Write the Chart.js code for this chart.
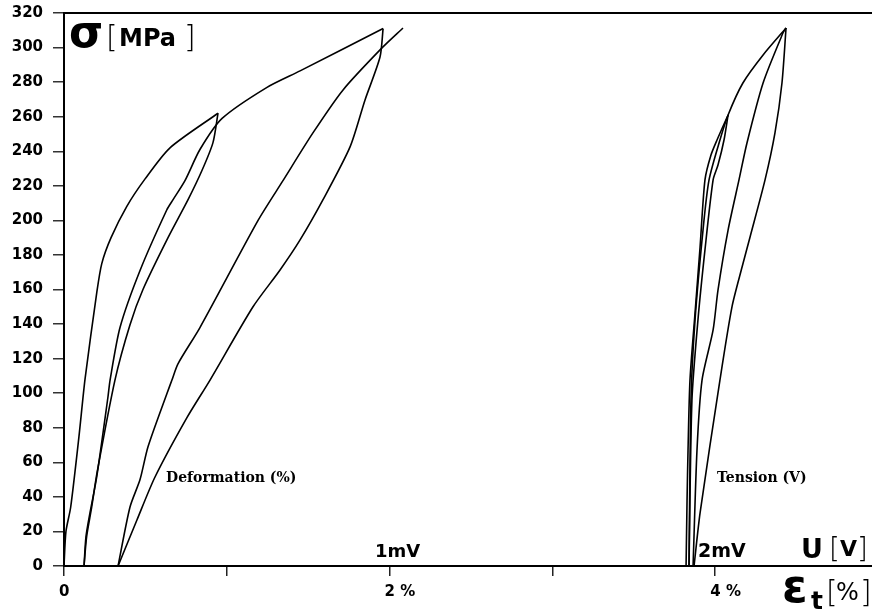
<!DOCTYPE html>
<html>
<head>
<meta charset="utf-8">
<script src="https://cdn.jsdelivr.net/npm/chart.js@4/dist/chart.umd.min.js"></script>
<style>
  html, body { margin: 0; padding: 0; background: #fff; }
  #wrap { width: 872px; height: 611px; }
</style>
</head>
<body>
<div id="wrap"><canvas id="hysteresis" width="872" height="611"></canvas></div>
<script>
// ===========================================
// DADOS
// ===========================================

// eixo x: deformação em %, eixo y: tensão em MPa
const xTickLabels = ['0', '', '2 %', '', '4 %'];
const xMax = 4.963;
const yMax = 320;
const yStep = 20;

// grupo da esquerda: Deformation (%)
const defLoad1X = [0, 0.012, 0.041, 0.092, 0.129, 0.201, 0.232, 0.289, 0.385, 0.498, 0.651, 0.946];
const defLoad1Y = [0, 20, 34, 75, 108, 158, 175, 190, 208, 224, 242, 262];

const defUnload1X = [0.946, 0.915, 0.848, 0.762, 0.639, 0.485, 0.405, 0.313, 0.203, 0.170, 0.139, 0.123];
const defUnload1Y = [262, 245, 229, 212, 190, 160, 139.5, 107.6, 54, 34, 17, 0];

const defLoad2X = [0.123, 0.135, 0.160, 0.201, 0.270, 0.283, 0.344, 0.467, 0.631, 0.670, 0.743, 0.835, 0.971, 1.247, 1.450, 1.960];
const defLoad2Y = [0, 17, 31, 51.5, 97.8, 107.6, 138, 171, 206, 212, 223, 241, 259, 277, 286.5, 311];

const defUnload2X = [1.960, 1.941, 1.849, 1.757, 1.591, 1.450, 1.327, 1.161, 0.897, 0.756, 0.559, 0.448, 0.332];
const defUnload2Y = [311, 294.5, 269.7, 242.5, 212, 188.7, 171.3, 150, 107.6, 86, 51.5, 26.6, 0];

const defLoad3X = [0.332, 0.405, 0.467, 0.516, 0.633, 0.663, 0.700, 0.835, 1.192, 1.345, 1.529, 1.714, 1.953, 2.082];
const defLoad3Y = [0, 34, 50, 69, 100, 107.6, 117, 138, 200, 223, 250.6, 275.5, 299.8, 311.3];

// grupo da direita: Tension (V)
const tenLoad1X = [3.821, 3.827, 3.833, 3.845, 3.876, 3.907, 3.937, 3.974, 4.011, 4.079];
const tenLoad1Y = [0, 38, 67, 107.6, 146.4, 184.6, 223.4, 237.8, 246.5, 261];

const tenUnload1X = [4.079, 4.054, 4.017, 3.987, 3.937, 3.894, 3.857, 3.839];
const tenUnload1Y = [261, 246.5, 232, 223.4, 182.9, 142.4, 96, 0];

const tenLoad2X = [3.839, 3.851, 3.876, 3.925, 3.962, 4.029, 4.079, 4.170, 4.294, 4.435];
const tenLoad2Y = [0, 96, 142.4, 194.4, 223.4, 246.5, 261, 279.5, 295.7, 311.3];

const tenUnload2X = [4.435, 4.410, 4.367, 4.306, 4.214, 4.165, 4.103, 4.029, 3.907, 3.870];
const tenUnload2Y = [311.3, 279.5, 250.6, 223.4, 190.4, 173, 150, 107.6, 30.7, 0];

const tenLoad3X = [3.864, 3.888, 3.919, 3.987, 4.017, 4.079, 4.146, 4.195, 4.294, 4.416, 4.435];
const tenLoad3Y = [0, 67, 107.6, 136.6, 159.7, 194.4, 223.4, 244.8, 279.5, 308.4, 311.3];

const curves = [
    [defLoad1X, defLoad1Y], [defUnload1X, defUnload1Y], [defLoad2X, defLoad2Y],
    [defUnload2X, defUnload2Y], [defLoad3X, defLoad3Y],
    [tenLoad1X, tenLoad1Y], [tenUnload1X, tenUnload1Y], [tenLoad2X, tenLoad2Y],
    [tenUnload2X, tenUnload2Y], [tenLoad3X, tenLoad3Y]
];

// ===========================================
// TEXTOS E MOLDURA (plugin)
// ===========================================

const SANS = "'DejaVu Sans', sans-serif";
const SERIF = "'DejaVu Serif', serif";

function put(ctx, text, font, x, y) {
    ctx.font = font;
    ctx.fillText(text, x, y);
}

const labelsPlugin = {
    id: 'labels',
    afterDraw(chart) {
        const { ctx, chartArea: a } = chart;
        ctx.save();
        // linha superior
        ctx.strokeStyle = '#000';
        ctx.lineWidth = 2;
        ctx.beginPath();
        ctx.moveTo(a.left - 1, a.top);
        ctx.lineTo(a.right, a.top);
        ctx.stroke();

        ctx.fillStyle = '#000';
        ctx.textBaseline = 'alphabetic';
        ctx.textAlign = 'left';

        // σ [MPa]
        put(ctx, 'σ', `bold 44px ${SANS}`, 69, 47);
        put(ctx, '[', `300 30px ${SANS}`, 106, 47);
        put(ctx, 'MPa', `bold 24px ${SANS}`, 119, 46);
        put(ctx, ']', `300 30px ${SANS}`, 184, 47);

        // U [V]
        put(ctx, 'U', `bold 27px ${SANS}`, 801, 558);
        put(ctx, '[', `300 28px ${SANS}`, 829, 558);
        put(ctx, 'V', `bold 22px ${SANS}`, 840, 556);
        put(ctx, ']', `300 28px ${SANS}`, 857, 558);

        // εt [%]
        put(ctx, 'ε', `bold 46px ${SANS}`, 782, 602);
        put(ctx, 't', `bold 25px ${SANS}`, 811, 609);
        put(ctx, '[', `300 30px ${SANS}`, 826, 602);
        put(ctx, '%', `24px ${SANS}`, 836, 600);
        put(ctx, ']', `300 30px ${SANS}`, 860, 602);

        // 1mV / 2mV
        put(ctx, '1mV', `bold 18px ${SANS}`, 375, 557);
        put(ctx, '2mV', `bold 19px ${SANS}`, 698, 557);

        // legendas das curvas
        put(ctx, 'Deformation (%)', `bold 14px ${SERIF}`, 166, 482);
        put(ctx, 'Tension (V)', `bold 14px ${SERIF}`, 717, 482);
        ctx.restore();
    }
};

// ===========================================
// GRÁFICO
// ===========================================

function renderChart() {
    const ctx = document.getElementById('hysteresis');
    const datasets = curves.map(([xs, ys]) => ({
        data: xs.map((x, i) => ({ x, y: ys[i] })),
        borderColor: '#000',
        borderWidth: 1.6,
        pointRadius: 0,
        tension: 0.25,
        fill: false
    }));

    new Chart(ctx, {
        type: 'line',
        data: { datasets },
        options: {
            responsive: false,
            animation: false,
            layout: { padding: { top: 13, left: 0, right: 0, bottom: 0 } },
            plugins: {
                legend: { display: false },
                tooltip: { enabled: false }
            },
            scales: {
                x: {
                    type: 'linear',
                    min: 0,
                    max: xMax,
                    border: { color: '#000', width: 2 },
                    grid: { drawOnChartArea: false, drawTicks: true, tickLength: 10, color: '#222', lineWidth: 1.5 },
                    ticks: {
                        stepSize: 1,
                        align: 'start',
                        labelOffset: -5,
                        padding: 7,
                        maxRotation: 0,
                        autoSkip: false,
                        color: '#000',
                        font: { family: 'DejaVu Sans', weight: 'bold', size: 15 },
                        callback: v => xTickLabels[v] ?? ''
                    },
                    afterBuildTicks: s => { s.ticks = s.ticks.filter(t => Number.isInteger(t.value)); },
                    afterFit: s => { s.height = 45; s.paddingLeft = 0; s.paddingRight = 0; }
                },
                y: {
                    min: 0,
                    max: yMax,
                    border: { color: '#000', width: 2 },
                    grid: { drawOnChartArea: false, drawTicks: true, tickLength: 11, color: '#333', lineWidth: 1.5 },
                    ticks: {
                        stepSize: yStep,
                        padding: 10,
                        color: '#000',
                        font: { family: 'DejaVu Sans', weight: 'bold', size: 15 }
                    },
                    afterFit: s => { s.width = 64; s.paddingTop = 0; s.paddingBottom = 0; }
                }
            }
        },
        plugins: [labelsPlugin]
    });
}

renderChart();
</script>
</body>
</html>
